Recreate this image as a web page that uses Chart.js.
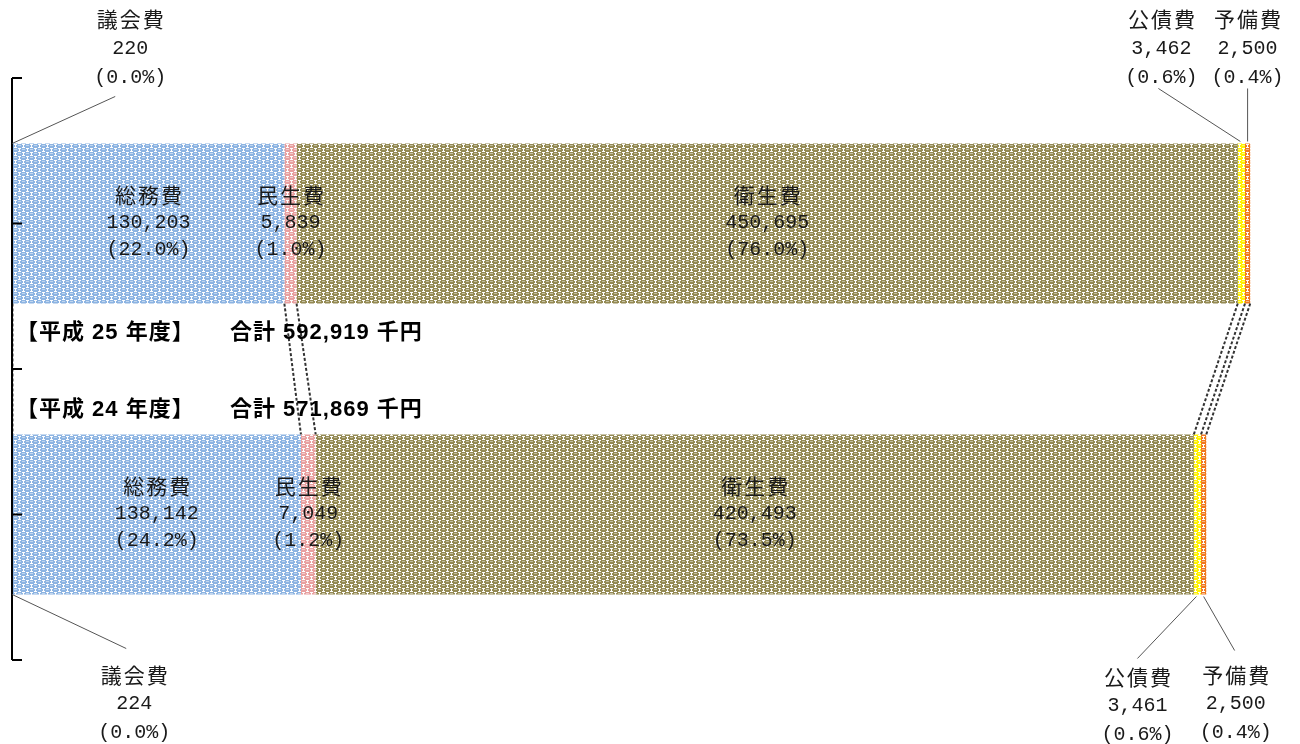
<!DOCTYPE html>
<html>
<head>
<meta charset="utf-8">
<script src="https://cdn.jsdelivr.net/npm/chart.js@4/dist/chart.umd.min.js"></script>
<style>
html,body{margin:0;padding:0;background:#fff;}
#wrap{position:relative;width:1300px;height:744px;}
</style>
</head>
<body>
<div id="wrap"><canvas id="c"></canvas></div>
<script>
// ---- data ----
const categories = ['議会費', '総務費', '民生費', '衛生費', '公債費', '予備費'];
const years = ['平成25年度', '平成24年度'];
const yearTitles = ['【平成 25 年度】', '【平成 24 年度】'];
const valuesH25 = [220, 130203, 5839, 450695, 3462, 2500];
const valuesH24 = [224, 138142, 7049, 420493, 3461, 2500];
const unit = '千円';
const segColors = ['#8DB4E2', '#8DB4E2', '#E8A0A0', '#948A54', '#FFF200', '#F0781E'];

const yearValues = [valuesH25, valuesH24];
const totals = yearValues.map(v => v.reduce((a, b) => a + b, 0));

// 8x8 "sphere" tile: 1 = colour, 2 = highlight, 0 = white
const tile = [
  '01111100',
  '11222110',
  '11111110',
  '01111100',
  '11000111',
  '21101122',
  '11101111',
  '11000111'
];
function makePattern(color) {
  const c = document.createElement('canvas');
  c.width = 8; c.height = 8;
  const g = c.getContext('2d');
  g.fillStyle = '#ffffff';
  g.fillRect(0, 0, 8, 8);
  for (let r = 0; r < 8; r++) {
    for (let q = 0; q < 8; q++) {
      const ch = tile[r][q];
      if (ch === '0') continue;
      g.fillStyle = color;
      g.fillRect(q, r, 1, 1);
      if (ch === '2') {
        g.fillStyle = 'rgba(255,255,255,0.45)';
        g.fillRect(q, r, 1, 1);
      }
    }
  }
  return g.createPattern(c, 'repeat');
}

const fmt = n => n.toLocaleString('en-US');
const pct = (v, t) => '(' + (v / t * 100).toFixed(1) + '%)';

const datasets = categories.map((name, k) => ({
  label: name,
  data: [valuesH25[k], valuesH24[k]],
  backgroundColor: makePattern(segColors[k]),
  borderWidth: 0,
  barPercentage: 0.55,
  categoryPercentage: 1.0
}));

// outside label placement: [dataset]-[bar] -> layout relative to segment
const outside = {
  '0-0': {side: 'top', cx: 118, ly: -124, lead: [0, 0, 103, -47]},
  '4-0': {side: 'top', cx: -80, ly: -124, lead: [-1, -2, -83, -55]},
  '5-0': {side: 'top', cx: 0, ly: -124, lead: [0, -2, 0, -55]},
  '0-1': {side: 'bottom', cx: 122, ly: 80, lead: [0, 0, 114, 54]},
  '4-1': {side: 'bottom', cx: -60, ly: 82, lead: [-1, 2, -60, 64]},
  '5-1': {side: 'bottom', cx: 32, ly: 80, lead: [0, 2, 31, 56]}
};

const numFont = '20px "Liberation Mono", "Noto Sans CJK JP"';
const kanjiFont = '21px "Noto Sans CJK JP"';

function drawLines(ctx, lines, x, y0, step) {
  lines.forEach((t, j) => {
    ctx.font = j === 0 ? kanjiFont : numFont;
    ctx.letterSpacing = j === 0 ? '2px' : '0px';
    ctx.fillText(t, x + (j === 0 ? 1 : 0), y0 + j * step);
  });
  ctx.letterSpacing = '0px';
}

const overlay = {
  id: 'overlay',
  afterDatasetsDraw(chart) {
    const ctx = chart.ctx;
    const area = chart.chartArea;
    const ys = chart.scales.y;
    // series lines
    ctx.save();
    ctx.setLineDash([3, 2]);
    ctx.strokeStyle = '#333';
    ctx.lineWidth = 2;
    for (let k = 0; k < categories.length; k++) {
      const m = chart.getDatasetMeta(k);
      const a = m.data[0], b = m.data[1];
      ctx.beginPath();
      ctx.moveTo(a.x, a.y + a.height / 2);
      ctx.lineTo(b.x, b.y - b.height / 2);
      ctx.stroke();
    }
    ctx.restore();

    // axis line + ticks
    ctx.save();
    ctx.strokeStyle = '#000';
    ctx.lineWidth = 2;
    ctx.beginPath();
    ctx.moveTo(area.left, area.top);
    ctx.lineTo(area.left, area.bottom);
    const p0 = ys.getPixelForValue(0), p1 = ys.getPixelForValue(1);
    [area.top, p0, (p0 + p1) / 2, p1, area.bottom].forEach(py => {
      ctx.moveTo(area.left, py);
      ctx.lineTo(area.left + 10, py);
    });
    ctx.stroke();
    ctx.restore();

    // data labels
    ctx.save();
    ctx.fillStyle = '#1a1a1a';
    ctx.textAlign = 'center';
    ctx.textBaseline = 'middle';
    for (let k = 0; k < categories.length; k++) {
      const m = chart.getDatasetMeta(k);
      for (let i = 0; i < years.length; i++) {
        const el = m.data[i];
        const v = yearValues[i][k];
        const lines = [categories[k], fmt(v), pct(v, totals[i])];
        const seg = (el.x + el.base) / 2;
        const top = el.y - el.height / 2, bot = el.y + el.height / 2;
        const o = outside[k + '-' + i];
        if (o) {
          const ref = o.side === 'top' ? top : bot;
          drawLines(ctx, lines, seg + o.cx, ref + o.ly, 29);
          ctx.save();
          ctx.strokeStyle = '#555';
          ctx.lineWidth = 1;
          ctx.beginPath();
          ctx.moveTo(seg + o.lead[0], ref + o.lead[1]);
          ctx.lineTo(seg + o.lead[2], ref + o.lead[3]);
          ctx.stroke();
          ctx.restore();
        } else {
          drawLines(ctx, lines, seg, el.y - 28, 27);
        }
      }
    }
    ctx.restore();

    // year totals
    ctx.save();
    ctx.fillStyle = '#000';
    ctx.textAlign = 'left';
    ctx.textBaseline = 'middle';
    ctx.font = 'bold 22px "Liberation Sans", "Noto Sans CJK JP"';
    ctx.letterSpacing = '1px';
    const b0 = chart.getDatasetMeta(0).data[0];
    const b1 = chart.getDatasetMeta(0).data[1];
    const yA = b0.y + b0.height / 2 + 29;
    const yB = b1.y - b1.height / 2 - 25;
    [[yearTitles[0], totals[0], yA], [yearTitles[1], totals[1], yB]].forEach(([t, tot, y]) => {
      ctx.fillText(t, 16, y);
      ctx.fillText('合計 ' + fmt(tot) + ' ' + unit, 230, y);
    });
    ctx.restore();
  }
};

new Chart(document.getElementById('c'), {
  type: 'bar',
  data: { labels: years, datasets },
  options: {
    indexAxis: 'y',
    responsive: true,
    maintainAspectRatio: false,
    animation: false,
    layout: { padding: { left: 12, right: 35, top: 78, bottom: 84 } },
    scales: {
      x: { stacked: true, display: false, min: 0, max: 600000 },
      y: { stacked: true, display: false }
    },
    plugins: { legend: { display: false }, tooltip: { enabled: false } }
  },
  plugins: [overlay]
});
</script>
</body>
</html>
